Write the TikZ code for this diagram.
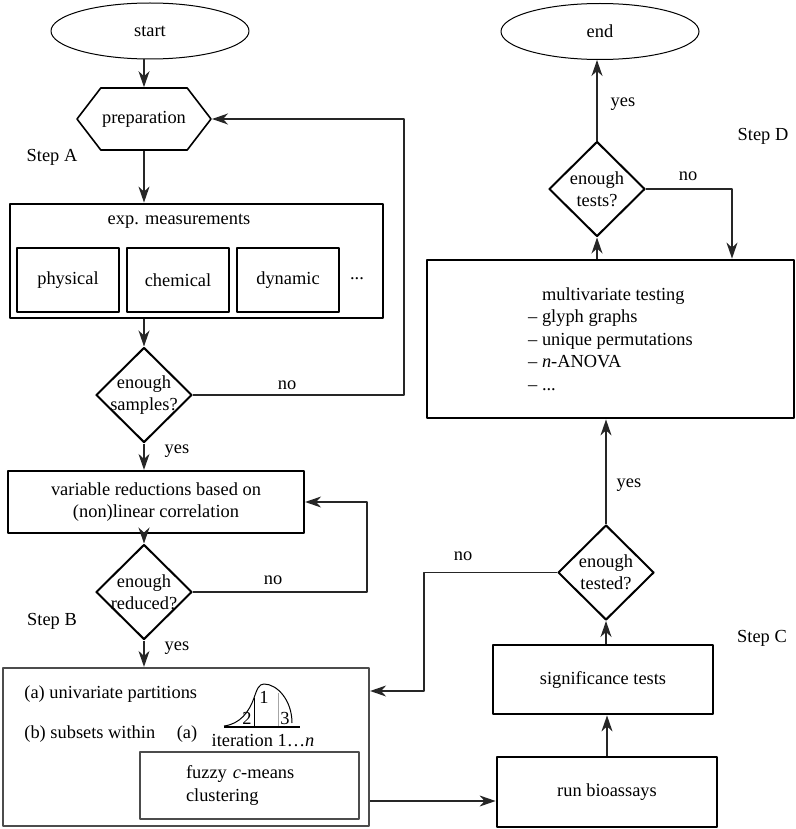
\documentclass[tikz,border=0pt]{standalone}
\usepackage{fontspec}
\setmainfont{Liberation Serif}
\usetikzlibrary{shapes.geometric,shapes.symbols,arrows.meta}
\newcommand{\qtext}[2]{\makebox[0pt]{#1}\\\makebox[0pt]{#2}}

\begin{document}
\begin{tikzpicture}[x=0.5pt,y=-0.5pt,>={Stealth[length=8pt,width=5.5pt,inset=2.5pt]},line join=round,
	font=\rmfamily\fontsize{9.2}{11.2}\selectfont,
	conn/.style={->,line width=0.7pt,draw=black!85},
	terminal/.style={ellipse,draw,line width=0.5pt,minimum width=99pt,minimum height=28pt,inner sep=0pt},
	hexa/.style={signal,signal to=west and east,signal pointer angle=105,draw,line width=0.8pt,minimum width=67pt,minimum height=31pt,inner sep=0pt},
	thickbox/.style={rectangle,draw,line width=1.4pt,inner sep=0pt},
	midbox/.style={rectangle,draw,line width=1.1pt,inner sep=0pt},
	graybox/.style={rectangle,draw=black!70,line width=1.1pt,inner sep=0pt},
	decision/.style={diamond,draw,line width=1pt,minimum width=48pt,minimum height=47.5pt,inner sep=0pt,align=center},
	lbl/.style={inner sep=0pt}]
	\useasboundingbox (0,0) rectangle (796,829);
	% step A
	\node[terminal] (start) at (150,31) {start};
	\node[hexa] (prep) at (144,119) {preparation};
	\node[lbl] (stepA) at (52,157) {Step A};
	\node[thickbox,minimum width=186.5pt,minimum height=57pt] (meas) at (196.5,261) {};
	\node[lbl] (meastitle) at (179,221) {exp. measurements};
	\node[thickbox,minimum width=51pt,minimum height=32pt] (phys) at (68,280) {physical};
	\node[thickbox,minimum width=51pt,minimum height=32pt] (chem) at (178,280) {chemical};
	\node[thickbox,minimum width=51pt,minimum height=32pt] (dyn) at (288,280) {dynamic};
	\node[lbl] (more) at (357,279) {...};
	\node[decision] (samples) at (144,395) {\qtext{enough}{samples?}};
	\node[lbl] (noA) at (287,385) {no};
	\node[lbl] (yesA) at (177,451) {yes};
	\coordinate (backA) at (404,119);
	% step B
	\node[midbox,minimum width=148pt,minimum height=31pt,align=center] (reduce) at (156,502) {variable reductions based on\\(non)linear correlation};
	\node[decision] (reduced) at (144,592) {\qtext{enough}{reduced?}};
	\node[lbl] (noB) at (273,580) {no};
	\node[lbl] (stepB) at (52,621) {Step B};
	\node[lbl] (yesB) at (177,648) {yes};
	\coordinate (backB) at (367,502);
	\node[graybox,minimum width=183pt,minimum height=79pt] (part) at (186,747) {};
	\node[lbl,anchor=west] (univ) at (24,694) {(a) univariate partitions};
	\node[lbl,anchor=west] (subset) at (24,734) {(b) subsets within};
	\node[lbl] (refa) at (187,734) {(a)};
	\draw[line width=1pt] (224,727) -- (300,727);
	\draw[line width=0.5pt] (224,726) .. controls (240,724) and (249,712) .. (254,698) .. controls (257,689) and (259,684) .. (264,684) .. controls (277,684) and (292,700) .. (292,723);
	\draw[line width=0.5pt] (254,698) -- (254,726);
	\draw[line width=0.5pt,draw=black!35] (278,693) -- (278,726);
	\node[lbl] (p2) at (247,718) {2};
	\node[lbl] (p1) at (264,697) {1};
	\node[lbl] (p3) at (285,718) {3};
	\node[lbl] (iter) at (263,741) {iteration 1\ldots\textit{n}};
	\node[graybox,text width=63.5pt,inner xsep=23pt,minimum height=33.5pt,align=left] (fuzzy) at (249.5,785.5) {fuzzy \textit{c}-means\\clustering};
	% step C
	\node[thickbox,minimum width=110pt,minimum height=35pt] (run) at (607,792) {run bioassays};
	\coordinate (runin) at ([yshift=-4.5pt]run.west);
	\node[thickbox,minimum width=110pt,minimum height=34.5pt] (sig) at (603,679.5) {significance tests};
	\node[lbl] (stepC) at (762,638) {Step C};
	\node[decision] (tested) at (606,572.5) {\qtext{enough}{tested?}};
	\node[lbl] (noC) at (463,556) {no};
	\node[lbl] (yesC) at (629,485) {yes};
	\coordinate (backC) at (424,691);
	% step D
	\node[thickbox,minimum width=183.5pt,minimum height=79pt,align=left] (multi) at (610.5,339) {\phantom{-- }multivariate testing\\-- glyph graphs\\-- unique permutations\\-- \textit{n}-ANOVA\\-- ...};
	\node[decision] (tests) at (597,189) {\qtext{enough}{tests?}};
	\node[lbl] (noD) at (688,176) {no};
	\node[lbl] (yesD) at (623,104) {yes};
	\node[lbl] (stepD) at (763,136) {Step D};
	\coordinate (backD) at (732,189);
	\node[terminal] (finish) at (600,31.5) {end};
	% connectors
	\draw[conn] (prep.north |- start.south) -- (prep.north);
	\draw[conn] (prep.south) -- (prep.south |- meas.north);
	\draw[conn] (samples.north |- meas.south) -- (samples.north);
	\draw[conn] (samples.east) -| (backA) -- (prep.east);
	\draw[conn] (samples.south) -- (samples.south |- reduce.north);
	\draw[conn] (reduced.north |- reduce.south) -- (reduced.north);
	\draw[conn] (reduced.east) -| (backB) -- (reduce.east);
	\draw[conn] (reduced.south) -- (reduced.south |- part.north);
	\draw[conn] (runin -| part.east) -- (runin);
	\draw[conn] (run.north) -- (run.north |- sig.south);
	\draw[conn] (tested.south |- sig.north) -- (tested.south);
	\draw[conn] (tested.west) -| (backC) -- (part.east |- backC);
	\draw[conn] (tested.north) -- (tested.north |- multi.south);
	\draw[conn] (tests.south |- multi.north) -- (tests.south);
	\draw[conn] (tests.east) -| (backD |- multi.north);
	\draw[conn] (tests.north) -- (tests.north |- finish.south);
\end{tikzpicture}
\end{document}
